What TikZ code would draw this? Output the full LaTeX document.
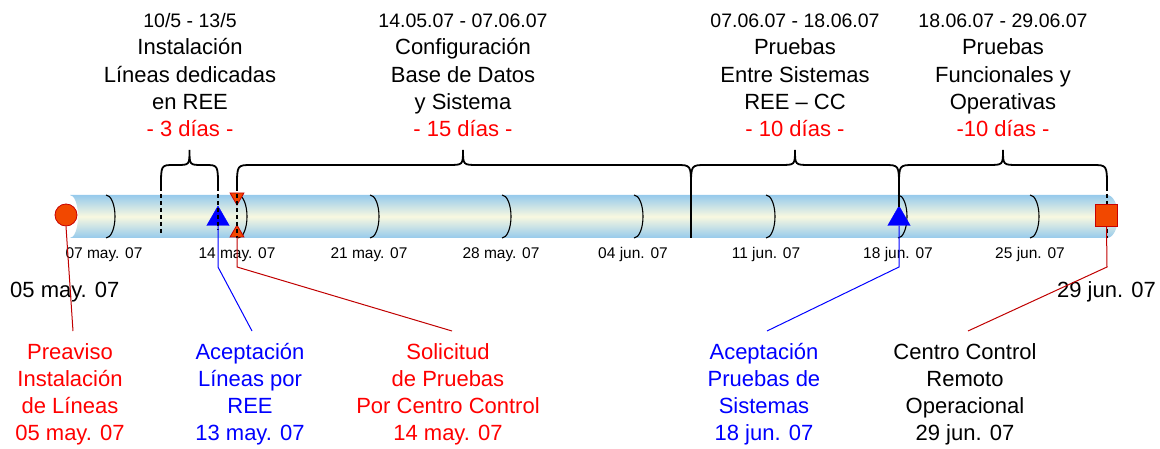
\documentclass[tikz,border=0pt]{standalone}
\usepackage{fontspec}
\setmainfont{Liberation Sans}
\usetikzlibrary{shapes.geometric}
\definecolor{mred}{RGB}{255,0,0}
\definecolor{mblue}{RGB}{0,0,255}
\definecolor{leadred}{RGB}{192,0,0}
\definecolor{mkfill}{RGB}{242,72,0}
\definecolor{mkborder}{RGB}{200,0,0}
\definecolor{tubeblue}{RGB}{150,202,236}
\definecolor{tubecream}{RGB}{248,248,224}
\newcommand{\mybrace}[4]{% xa, xm, xb, r
  \draw[bracestyle] (#1,187) .. controls (#1,165) .. (#1+#4,165) -- (#2-#4,165)
    .. controls (#2,165) .. (#2,150) .. controls (#2,165) .. (#2+#4,165)
    -- (#3-#4,165) .. controls (#3,165) .. (#3,187);}
\begin{document}
\begin{tikzpicture}[x=1pt,y=-1pt,
  coltext/.style={align=center, anchor=base, inner sep=0pt, font=\fontsize{22}{27.3}\selectfont},
  axislabel/.style={anchor=base, inner sep=0pt, font=\fontsize{15.5}{18}\selectfont},
  biglabel/.style={inner sep=0pt, font=\fontsize{22}{26}\selectfont},
  rib/.style={draw=black, line width=1.1pt},
  divdash/.style={draw=black, line width=2pt, dash pattern=on 4.5pt off 2.5pt},
  divsolid/.style={draw=black, line width=2pt},
  bracestyle/.style={draw=black, line width=1.8pt},
  marker/.style={draw=mkborder, fill=mkfill, line width=0.8pt, inner sep=0pt},
  bluetri/.style={regular polygon, regular polygon sides=3, fill=mblue, draw=mblue, inner sep=0pt, minimum size=26pt},
  smalltri/.style={regular polygon, regular polygon sides=3, marker, minimum size=16pt},
  leadred/.style={draw=leadred, line width=1pt},
  leadblue/.style={draw=mblue, line width=1pt}]
\useasboundingbox (0,0) rectangle (1160,449);

% tube
\path[top color=tubeblue, bottom color=tubeblue, middle color=tubecream]
  (70,195) -- (1107,195) arc[start angle=-90, end angle=90, x radius=11, y radius=21.5]
  -- (70,238) arc[start angle=90, end angle=-90, x radius=8, y radius=21.5] -- cycle;

% ribs
\foreach \x in {106,238,370,502,634,766,898,1030}
  \draw[rib] (\x,195) arc[start angle=-90, end angle=90, x radius=9, y radius=21.5];

% axis labels
\node[axislabel] (d1) at (104,259) {07 may. 07};
\node[axislabel] (d2) at (237,259) {14 may. 07};
\node[axislabel] (d3) at (369,259) {21 may. 07};
\node[axislabel] (d4) at (501,259) {28 may. 07};
\node[axislabel] (d5) at (633,259) {04 jun. 07};
\node[axislabel] (d6) at (766,259) {11 jun. 07};
\node[axislabel] (d7) at (898,259) {18 jun. 07};
\node[axislabel] (d8) at (1030,259) {25 jun. 07};

\node[biglabel, anchor=base west] (start) at (10,298) {05 may. 07};
\node[biglabel, anchor=base east] (end) at (1156,298) {29 jun. 07};

% divider under the end square
\draw[divdash] (1107,187) -- (1107,238);

% markers
\node[marker, circle, minimum size=22pt] (mA) at (66,215) {};
\node[bluetri] (mB) at (218,219) {};
\node[smalltri, shape border rotate=180] (mC1) at (237,197) {};
\node[smalltri] (mC) at (237,233) {};
\node[bluetri] (mD) at (899,219) {};
\node[marker, rectangle, minimum size=22pt] (mE) at (1106.5,215) {};

% dividers (drawn over the markers)
\draw[divdash] (161,187) -- (161,235);
\draw[divdash] (218,187) -- (218,230);
\draw[divdash] (237,187) -- (237,238);
\draw[divsolid] (691,187) -- (691,238);
\draw[divsolid] (899,187) -- (899,207);

% braces
\mybrace{161}{189.5}{218}{13}
\mybrace{237}{463}{691}{15}
\mybrace{691}{795}{899}{15}
\mybrace{899}{1003}{1107}{15}

% top texts (base anchor = last line)
\node[coltext] (t1) at (190,136.7) {{\fontsize{19.5}{27.3}\selectfont 10/5 - 13/5}\\Instalación\\Líneas dedicadas\\en REE\\\textcolor{mred}{- 3 días -}};
\node[coltext] (t2) at (463,136.7) {{\fontsize{19.5}{27.3}\selectfont 14.05.07 - 07.06.07}\\Configuración\\Base de Datos\\y Sistema\\\textcolor{mred}{- 15 días -}};
\node[coltext] (t3) at (795,136.7) {{\fontsize{19.5}{27.3}\selectfont 07.06.07 - 18.06.07}\\Pruebas\\Entre Sistemas\\REE – CC\\\textcolor{mred}{- 10 días -}};
\node[coltext] (t4) at (1003,136.7) {{\fontsize{19.5}{27.3}\selectfont 18.06.07 - 29.06.07}\\Pruebas\\Funcionales y\\Operativas\\\textcolor{mred}{-10 días -}};

% bottom texts
\node[coltext, text=mred] (bA) at (70,440.9) {Preaviso\\Instalación\\de Líneas\\05 may. 07};
\node[coltext, text=mblue] (bB) at (250,440.9) {Aceptación\\Líneas por\\REE\\13 may. 07};
\node[coltext, text=mred] (bC) at (448,440.9) {Solicitud\\de Pruebas\\Por Centro Control\\14 may. 07};
\node[coltext, text=mblue] (bD) at (764,440.9) {Aceptación\\Pruebas de\\Sistemas\\18 jun. 07};
\node[coltext, text=black] (bE) at (965,440.9) {Centro Control\\Remoto\\Operacional\\29 jun. 07};

% leader lines
\coordinate (eA) at (73,331);
\coordinate (kB) at (218,267); \coordinate (eB) at (252,331);
\coordinate (kC) at (237,267); \coordinate (eC) at (452,331);
\coordinate (kD) at (899,267); \coordinate (eD) at (767,331);
\coordinate (kE) at (1107,267); \coordinate (eE) at (968,331);
\draw[leadred] (mA.south) -- (eA);
\draw[leadblue] (mB.south) -- (kB) -- (eB);
\draw[leadred] (mC.south) -- (kC) -- (eC);
\draw[leadblue] (mD.south) -- (kD) -- (eD);
\draw[leadred] (mE.south) -- (kE) -- (eE);
\end{tikzpicture}
\end{document}
